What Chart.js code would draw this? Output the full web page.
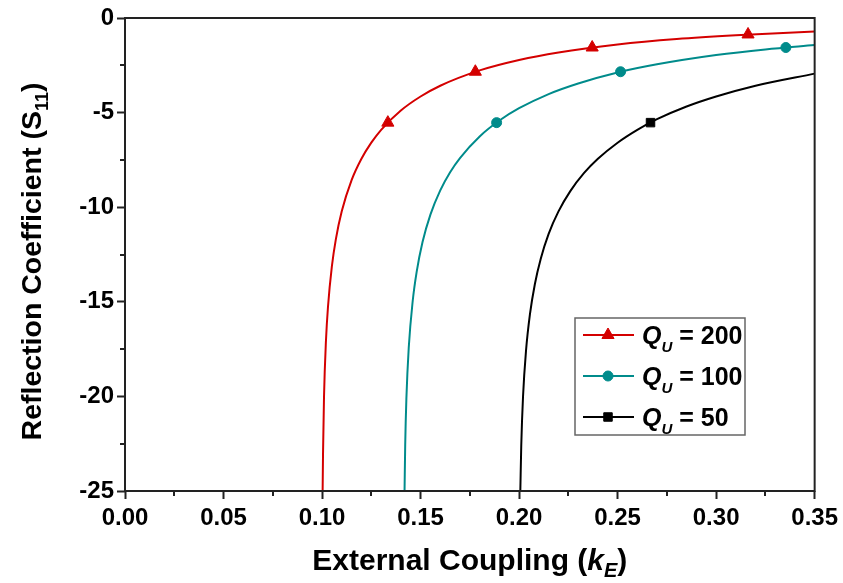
<!DOCTYPE html>
<html>
<head>
<meta charset="utf-8">
<script src="https://cdn.jsdelivr.net/npm/chart.js@4"></script>
<style>
  html, body { margin: 0; padding: 0; background: #fff; }
</style>
</head>
<body>
<canvas id="s11Chart" width="843" height="583"></canvas>
<script>
// S11 (dB) against external coupling kE, one curve per unloaded Q
const kE200  = [0.1003, 0.1005, 0.101, 0.102, 0.103, 0.105, 0.107, 0.11, 0.115, 0.12, 0.125, 0.13, 0.14, 0.15, 0.16, 0.18, 0.20, 0.22, 0.25, 0.28, 0.31, 0.35];
const s11_200 = [-25.0, -23.02, -20.02, -17.03, -15.29, -13.12, -11.70, -10.22, -8.57, -7.44, -6.59, -5.91, -4.89, -4.15, -3.58, -2.77, -2.22, -1.82, -1.40, -1.11, -0.91, -0.71];

const kE100  = [0.14187, 0.1422, 0.1428, 0.144, 0.146, 0.148, 0.151, 0.155, 0.16, 0.165, 0.17, 0.18, 0.19, 0.20, 0.215, 0.23, 0.25, 0.27, 0.30, 0.325, 0.35];
const s11_100 = [-25.0, -22.60, -20.13, -17.43, -14.97, -13.43, -11.84, -10.39, -9.11, -8.15, -7.40, -6.26, -5.42, -4.77, -4.02, -3.46, -2.88, -2.45, -1.96, -1.66, -1.43];

const kE50   = [0.20063, 0.2011, 0.202, 0.2035, 0.2055, 0.208, 0.211, 0.215, 0.22, 0.226, 0.233, 0.24, 0.25, 0.26, 0.27, 0.285, 0.30, 0.32, 0.35];
const s11_50  = [-25.0, -22.61, -20.02, -17.61, -15.67, -14.07, -12.72, -11.41, -10.22, -9.15, -8.19, -7.44, -6.59, -5.91, -5.35, -4.68, -4.15, -3.58, -2.94];

// symbol positions along each curve
const mark200X = [0.1334, 0.1778, 0.2371, 0.3162];
const mark200Y = [-5.53, -2.84, -1.56, -0.87];
const mark100X = [0.1886, 0.2515, 0.3354];
const mark100Y = [-5.53, -2.84, -1.56];
const mark50X  = [0.2667];
const mark50Y  = [-5.53];

const xTicks = [0, 0.05, 0.10, 0.15, 0.20, 0.25, 0.30, 0.35];
const yTicks = [0, -5, -10, -15, -20, -25];

const RED = '#d40000';
const TEAL = '#008b8b';
const BLACK = '#000000';
const FONT = '"Liberation Sans", Arial, sans-serif';

function toPoints(xs, ys) {
    return xs.map((x, i) => ({ x: x, y: ys[i] }));
}

function curve(xs, ys, colour) {
    return {
        data: toPoints(xs, ys),
        borderColor: colour,
        borderWidth: 2,
        pointRadius: 0,
        cubicInterpolationMode: 'monotone',
        fill: false
    };
}

function markers(xs, ys, colour, style, radius) {
    return {
        data: toPoints(xs, ys),
        showLine: false,
        pointStyle: style,
        pointRadius: radius,
        pointBackgroundColor: colour,
        pointBorderColor: colour,
        pointBorderWidth: 1
    };
}

const legendItems = [
    { value: '200', colour: RED, style: 'triangle', radius: 7 },
    { value: '100', colour: TEAL, style: 'circle', radius: 5 },
    { value: '50', colour: BLACK, style: 'rect', radius: 6 }
];

// frame, minor ticks, axis titles and legend
const decorations = {
    id: 'decorations',
    afterDatasetsDraw(chart) {
        const { ctx, chartArea: a, scales } = chart;
        ctx.save();

        ctx.strokeStyle = '#222';
        ctx.lineWidth = 2;
        ctx.strokeRect(a.left, a.top, a.right - a.left, a.bottom - a.top);

        // minor ticks, outward
        ctx.lineWidth = 2;
        ctx.beginPath();
        for (let i = 0; i < xTicks.length - 1; i++) {
            const px = Math.round(scales.x.getPixelForValue((xTicks[i] + xTicks[i + 1]) / 2));
            ctx.moveTo(px, a.bottom);
            ctx.lineTo(px, a.bottom + 5);
        }
        for (let i = 0; i < yTicks.length - 1; i++) {
            const py = Math.round(scales.y.getPixelForValue((yTicks[i] + yTicks[i + 1]) / 2));
            ctx.moveTo(a.left, py);
            ctx.lineTo(a.left - 5, py);
        }
        ctx.stroke();

        ctx.fillStyle = '#000';
        ctx.textBaseline = 'alphabetic';

        // x title: External Coupling (kE)
        const xParts = [
            { t: 'External Coupling (', f: 'bold 30px ' + FONT, dy: 0 },
            { t: 'k', f: 'italic bold 30px ' + FONT, dy: 0 },
            { t: 'E', f: 'italic bold 20px ' + FONT, dy: 7 },
            { t: ')', f: 'bold 30px ' + FONT, dy: 0 }
        ];
        drawParts(ctx, xParts, (a.left + a.right) / 2, 570);

        // y title, rotated
        ctx.save();
        ctx.translate(41, (a.top + a.bottom) / 2 + 7);
        ctx.rotate(-Math.PI / 2);
        const yParts = [
            { t: 'Reflection Coefficient (S', f: 'bold 28.5px ' + FONT, dy: 0 },
            { t: '11', f: 'bold 18px ' + FONT, dy: 7 },
            { t: ')', f: 'bold 28.5px ' + FONT, dy: 0 }
        ];
        drawParts(ctx, yParts, 0, 0);
        ctx.restore();

        // legend box
        const lx = 575, ly = 318, lw = 170, lh = 117;
        ctx.fillStyle = '#fff';
        ctx.fillRect(lx, ly, lw, lh);
        ctx.strokeStyle = '#666';
        ctx.lineWidth = 1.5;
        ctx.strokeRect(lx, ly, lw, lh);

        legendItems.forEach((item, i) => {
            const cy = ly + 17 + i * 41;
            ctx.strokeStyle = item.colour;
            ctx.lineWidth = 2;
            ctx.beginPath();
            ctx.moveTo(583, cy);
            ctx.lineTo(634, cy);
            ctx.stroke();
            ctx.fillStyle = item.colour;
            ctx.strokeStyle = item.colour;
            ctx.lineWidth = 1;
            Chart.helpers.drawPoint(ctx, { pointStyle: item.style, radius: item.radius, borderWidth: 1 }, 608, cy);

            ctx.fillStyle = '#000';
            const parts = [
                { t: 'Q', f: 'italic bold 25px ' + FONT, dy: 0 },
                { t: 'U', f: 'italic bold 15px ' + FONT, dy: 8 },
                { t: ' = ' + item.value, f: 'bold 25px ' + FONT, dy: 0 }
            ];
            drawParts(ctx, parts, null, cy + 9, 642);
        });

        ctx.restore();
    }
};

// draws mixed-font text pieces on one baseline; centred at cx unless a left edge is given
function drawParts(ctx, parts, cx, baseY, left) {
    let total = 0;
    parts.forEach(p => { ctx.font = p.f; p.w = ctx.measureText(p.t).width; total += p.w; });
    let x = left !== undefined ? left : cx - total / 2;
    ctx.textAlign = 'left';
    parts.forEach(p => {
        ctx.font = p.f;
        ctx.fillText(p.t, x, baseY + p.dy);
        x += p.w;
    });
}

const ctx = document.getElementById('s11Chart').getContext('2d');
new Chart(ctx, {
    type: 'line',
    data: {
        datasets: [
            curve(kE200, s11_200, RED),
            curve(kE100, s11_100, TEAL),
            curve(kE50, s11_50, BLACK),
            markers(mark200X, mark200Y, RED, 'triangle', 7),
            markers(mark100X, mark100Y, TEAL, 'circle', 5),
            markers(mark50X, mark50Y, BLACK, 'rect', 6)
        ]
    },
    options: {
        responsive: false,
        animation: false,
        layout: { padding: { left: 0, top: 18, right: 28, bottom: 0 } },
        plugins: {
            legend: { display: false },
            tooltip: { enabled: false }
        },
        scales: {
            x: {
                type: 'linear',
                min: 0,
                max: 0.35,
                afterBuildTicks: scale => { scale.ticks = xTicks.map(v => ({ value: v })); },
                afterFit: scale => { scale.height = 92; },
                ticks: {
                    color: '#000',
                    font: { family: FONT, size: 24, weight: 'bold' },
                    padding: 5,
                    maxRotation: 0,
                    callback: v => v.toFixed(2)
                },
                grid: { drawOnChartArea: false, tickLength: 8, tickWidth: 2, tickColor: '#222' },
                border: { display: false }
            },
            y: {
                type: 'linear',
                min: -25,
                max: 0,
                afterBuildTicks: scale => { scale.ticks = yTicks.map(v => ({ value: v })); },
                afterFit: scale => { scale.width = 125; },
                ticks: {
                    color: '#000',
                    font: { family: FONT, size: 24, weight: 'bold' },
                    padding: 3,
                    callback: v => String(v)
                },
                grid: { drawOnChartArea: false, tickLength: 8, tickWidth: 2, tickColor: '#222' },
                border: { display: false }
            }
        }
    },
    plugins: [decorations]
});
</script>
</body>
</html>
